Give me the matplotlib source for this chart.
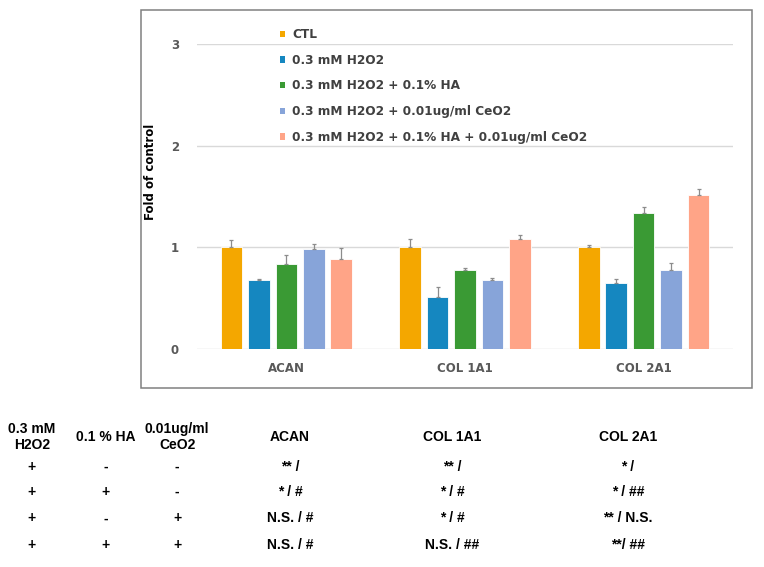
import matplotlib
matplotlib.use("Agg")
import matplotlib.pyplot as plt
from matplotlib.patches import Rectangle, Patch
import numpy as np

genes = ["ACAN", "COL 1A1", "COL 2A1"]
series = ["CTL", "0.3 mM H2O2", "0.3 mM H2O2 + 0.1% HA",
          "0.3 mM H2O2 + 0.01ug/ml CeO2", "0.3 mM H2O2 + 0.1% HA + 0.01ug/ml CeO2"]
ctl = [1.00, 1.00, 1.00]
h2o2 = [0.68, 0.51, 0.65]
h2o2_ha = [0.84, 0.78, 1.34]
h2o2_ceo2 = [0.98, 0.675, 0.78]
h2o2_ha_ceo2 = [0.89, 1.085, 1.52]
err_ctl = [0.07, 0.08, 0.02]
err_h2o2 = [0.01, 0.10, 0.04]
err_ha = [0.09, 0.02, 0.06]
err_ceo2 = [0.05, 0.025, 0.065]
err_combo = [0.10, 0.035, 0.055]
colors = ["#F4A700", "#1587C0", "#3A9A34", "#87A4D9", "#FFA487"]

tbl_head = ["0.3 mM\nH2O2", "0.1 % HA", "0.01ug/ml\nCeO2", "ACAN", "COL 1A1", "COL 2A1"]
tbl_rows = [
    ["+", "-", "-", "** /", "** /", "* /"],
    ["+", "+", "-", "* / #", "* / #", "* / ##"],
    ["+", "-", "+", "N.S. / #", "* / #", "** / N.S."],
    ["+", "+", "+", "N.S. / #", "N.S. / ##", "**/ ##"],
]

W, H = 764, 567
fig = plt.figure(figsize=(W / 100, H / 100), dpi=100)

def fx(px):
    return px / W

def fy(py):
    return (H - py) / H

# chart border
fig.patches.append(Rectangle((fx(140.5), fy(388)), fx(752.5) - fx(140.5), fy(10) - fy(388),
                             transform=fig.transFigure, fill=False, edgecolor="#808080",
                             linewidth=1.1, zorder=0))

ax = fig.add_axes([fx(197), fy(349), fx(733) - fx(197), fy(44.3) - fy(349)])
ax.set_xlim(-0.5, 2.5)
ax.set_ylim(0, 3)
for s in ax.spines.values():
    s.set_visible(False)
ax.set_yticks([0, 1, 2, 3])
ax.set_yticklabels(["0", "1", "2", "3"])
ax.yaxis.grid(True, color="#D9D9D9", linewidth=1)
ax.set_axisbelow(True)
ax.tick_params(axis="both", length=0)
ax.tick_params(axis="y", pad=13, labelsize=8.5, labelcolor="#595959")
ax.tick_params(axis="x", pad=9, labelsize=8.5, labelcolor="#595959")
x = np.arange(len(genes))
ax.set_xticks(x)
ax.set_xticklabels(genes)
for lab in ax.get_xticklabels() + ax.get_yticklabels():
    lab.set_fontweight("bold")

vals = [ctl, h2o2, h2o2_ha, h2o2_ceo2, h2o2_ha_ceo2]
errs = [err_ctl, err_h2o2, err_ha, err_ceo2, err_combo]
step = 0.1536
bw = 0.121
for i, (v, e, c, lab) in enumerate(zip(vals, errs, colors, series)):
    pos = x + (i - 2) * step
    ax.bar(pos, v, width=bw, color=c, edgecolor="white", linewidth=0.6, label=lab, zorder=2)
    ax.errorbar(pos, v, yerr=[np.zeros(len(e)), e], fmt="none", ecolor="#8C8C8C",
                elinewidth=0.9, capsize=1.5, capthick=0.9, zorder=3)

ax.set_ylabel("Fold of control", fontsize=8.5, fontweight="bold", color="black")
ax.yaxis.label.set_transform(fig.transFigure)
ax.yaxis.label.set_position((fx(157), fy(171.5)))
ax.yaxis.set_label_coords(fx(157), fy(171.5), transform=fig.transFigure)

handles = [Patch(facecolor=c, edgecolor="none") for c in colors]
leg = fig.legend(handles, series, loc="upper left", bbox_to_anchor=(fx(280), fy(28)),
                 frameon=False, handlelength=0.42, handleheight=0.42, handletextpad=0.6,
                 labelspacing=1.05, borderaxespad=0, borderpad=0,
                 prop={"size": 8.7, "weight": "bold"}, labelcolor="#404040")

# table below chart
col_x = [32, 106, 177, 290, 452, 628]
for cx, t in zip(col_x, tbl_head):
    fig.text(fx(cx), fy(437), t, ha="center", va="center", fontsize=10,
             fontweight="bold", family="Liberation Sans", linespacing=1.15)
row_y = [466.7, 491.7, 518.3, 545]
for ry, row in zip(row_y, tbl_rows):
    for cx, t in zip(col_x, row):
        fig.text(fx(cx), fy(ry), t, ha="center", va="center", fontsize=10,
                 fontweight="bold", family="Liberation Sans")

fig.savefig("out.png", dpi=100)
